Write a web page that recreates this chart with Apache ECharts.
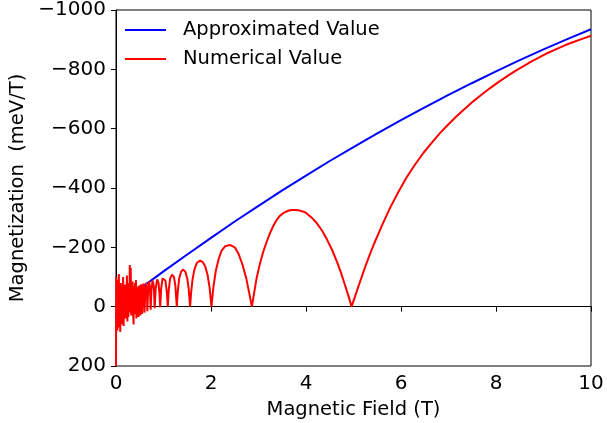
<!DOCTYPE html>
<html>
<head>
<meta charset="utf-8">
<script src="https://cdn.jsdelivr.net/npm/echarts@6/dist/echarts.min.js"></script>
<style>
html,body{margin:0;padding:0;background:#fff;}
#chart{width:607px;height:423px;}
</style>
</head>
<body>
<div id="chart"></div>
<script>
// Approximated value (blue)
const approxField = [0.4, 0.5, 1, 1.5, 2, 2.5, 3, 3.5, 4, 4.5, 5, 5.5, 6, 6.5, 7, 7.5, 8, 8.5, 9, 9.5, 10];
const approxValue = [-48, -60, -119, -176, -232, -287, -340, -392, -442, -491, -538, -584, -629, -672, -714, -754, -793, -831, -867, -902, -935];

// Numerical value (red)
const numField = [
  0, 0.005, 0.01, 0.02, 0.03, 0.04, 0.05, 0.06, 0.07, 0.08, 0.09, 0.10, 0.11, 0.12, 0.13, 0.14, 0.15, 0.16, 0.17, 0.18, 0.19,
  0.20, 0.21, 0.22, 0.23, 0.24, 0.25, 0.26, 0.27, 0.28, 0.29, 0.30, 0.31, 0.32, 0.33, 0.34, 0.35, 0.36, 0.37, 0.38, 0.39,
  0.40, 0.41, 0.42, 0.43, 0.44,
  0.445, 0.455, 0.462, 0.47, 0.475,
  0.485, 0.495, 0.505, 0.51,
  0.52, 0.532, 0.543, 0.55,
  0.562, 0.577, 0.59, 0.60,
  0.615, 0.632, 0.648, 0.66,
  0.675, 0.695, 0.715, 0.73,
  0.745, 0.77, 0.795, 0.815,
  0.835, 0.865, 0.895, 0.915, 0.93,
  0.95, 0.98, 1.01, 1.04, 1.07, 1.09,
  1.11, 1.14, 1.18, 1.22, 1.25, 1.28,
  1.30, 1.33, 1.37, 1.41, 1.46, 1.50, 1.53, 1.56,
  1.58, 1.61, 1.65, 1.70, 1.77, 1.83, 1.88, 1.93, 1.97, 2.01,
  2.05, 2.10, 2.16, 2.22, 2.30, 2.40, 2.50, 2.58, 2.66, 2.74, 2.80, 2.86,
  2.96, 3.03, 3.10, 3.17, 3.24, 3.31, 3.38, 3.45, 3.52, 3.58, 3.64, 3.70, 3.77, 3.83, 3.89, 3.95, 4.01, 4.12, 4.23, 4.34, 4.44, 4.55, 4.65, 4.74, 4.82, 4.89, 4.96,
  5.05, 5.15, 5.25, 5.33, 5.42, 5.60, 5.77, 5.95, 6.12, 6.30, 6.47, 6.65, 6.82, 7.00, 7.17, 7.35, 7.52, 7.70, 7.87, 8.05, 8.23, 8.40, 8.58, 8.75, 8.93, 9.10, 9.28, 9.45, 9.63, 9.80, 10.0
];
const numValue = [
  200, -100, 60, -90, 80, -60, 40, -110, 70, -50, 85, -80, 20, -70, 60, -40, -100, 65, -60, 30, -75,
  40, -50, 10, -105, 50, -60, 35, -80, 20, -140, -30, -130, 30, -70, 15, -85, 20, 60, -70, 25,
  -80, 10, -90, 40, -60,
  30, -40, -68, -20, 35,
  -30, -72, -40, 30,
  -35, -75, -45, 25,
  -40, -78, -50, 20,
  -45, -80, -60, 15,
  -50, -85, -65, 10,
  -55, -88, -70, 5,
  -60, -92, -80, -45, 2,
  -60, -95, -100, -88, -50, 0,
  -55, -95, -108, -100, -70, 0,
  -50, -95, -118, -125, -118, -95, -60, 0,
  -45, -90, -125, -147, -155, -150, -135, -105, -65, 0,
  -65, -120, -160, -188, -204, -208, -200, -178, -143, -97, -50, 0,
  -96, -145, -185, -218, -247, -272, -292, -306, -315, -320, -324, -326, -326, -325, -323, -320, -315, -300, -281, -256, -227, -191, -152, -113, -73, -38, 0,
  -43, -90, -136, -170, -207, -274, -333, -388, -436, -480, -518, -553, -585, -615, -642, -668, -692, -715, -736, -757, -776, -794, -811, -827, -842, -856, -869, -881, -892, -902, -913
];

const xTicks = [0, 2, 4, 6, 8, 10];
const yTicks = [-1000, -800, -600, -400, -200, 0, 200];

const font = 'DejaVu Sans';
const chart = echarts.init(document.getElementById('chart'), null, {renderer: 'canvas'});

chart.setOption({
  animation: false,
  backgroundColor: '#fff',
  grid: {left: 116, right: 16, top: 10, bottom: 57, containLabel: false, outerBoundsMode: 'none',
         show: true, borderColor: '#000', borderWidth: 1, backgroundColor: 'transparent'},
  legend: {
    orient: 'vertical',
    left: 120,
    top: 15,
    icon: 'rect',
    itemWidth: 41,
    itemHeight: 2,
    itemGap: 9,
    data: ['Approximated Value', 'Numerical Value'],
    textStyle: {fontFamily: font, fontSize: 19.5, color: '#000', padding: [0, 0, 0, 12]}
  },
  xAxis: {
    type: 'value',
    min: xTicks[0],
    max: xTicks[xTicks.length - 1],
    interval: 2,
    name: 'Magnetic Field (T)',
    nameLocation: 'middle',
    nameGap: 34,
    nameTextStyle: {fontFamily: font, fontSize: 19.5, color: '#000'},
    axisLine: {show: true, lineStyle: {color: '#000', width: 1}},
    axisTick: {show: true, length: 5, lineStyle: {color: '#000', width: 1}},
    axisLabel: {fontFamily: font, fontSize: 20, color: '#000', margin: 8},
    splitLine: {show: false}
  },
  yAxis: {
    type: 'value',
    inverse: true,
    min: yTicks[0],
    max: yTicks[yTicks.length - 1],
    interval: 200,
    name: 'Magnetization  (meV/T)',
    nameLocation: 'middle',
    nameGap: 88,
    nameTextStyle: {fontFamily: font, fontSize: 19.5, color: '#000'},
    axisLine: {show: true, lineStyle: {color: '#000', width: 1}},
    axisTick: {show: true, length: 5, lineStyle: {color: '#000', width: 1}},
    axisLabel: {fontFamily: font, fontSize: 20, color: '#000', margin: 10,
      formatter: v => String(v).replace('-', '\u2212')},
    splitLine: {show: false}
  },
  series: [
    {
      name: 'Approximated Value',
      type: 'line',
      data: approxField.map((b, i) => [b, approxValue[i]]),
      showSymbol: false,
      symbol: 'none',
      lineStyle: {color: '#0000ff', width: 2},
      itemStyle: {color: '#0000ff'},
      smooth: false
    },
    {
      name: 'Numerical Value',
      type: 'line',
      data: numField.map((b, i) => [b, numValue[i]]),
      showSymbol: false,
      symbol: 'none',
      lineStyle: {color: '#ff0000', width: 2},
      itemStyle: {color: '#ff0000'},
      smooth: false
    }
  ]
});
</script>
</body>
</html>
